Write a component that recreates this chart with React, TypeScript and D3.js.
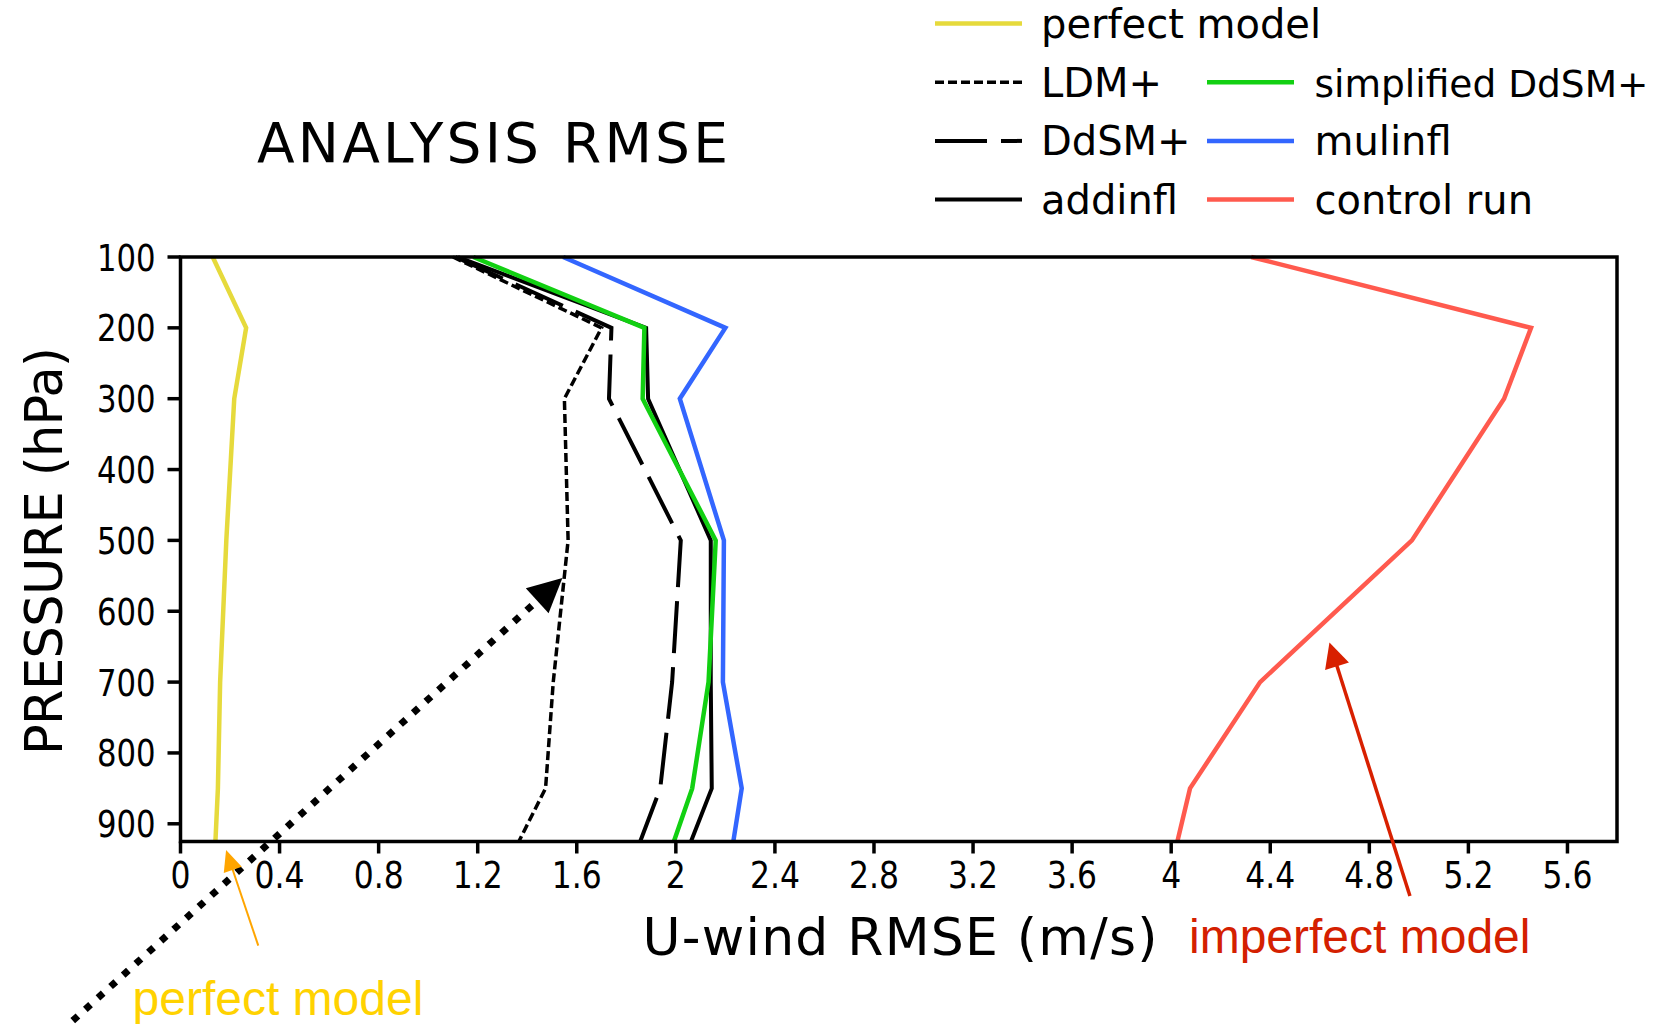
import * as d3 from "d3";

const W = 1665;
const H = 1024;
const plotLeft = 180.5;
const plotRight = 1617;
const plotTop = 257;
const plotBottom = 841.5;

// pressure levels (hPa) and U-wind analysis RMSE (m/s) per experiment
const levels = [100, 200, 300, 500, 700, 850, 925];
const perfectModel = [0.13, 0.265, 0.217, 0.185, 0.16, 0.151, 0.141];
const ldmPlus = [1.1, 1.7, 1.55, 1.565, 1.505, 1.474, 1.366];
const ddsmPlus = [1.11, 1.74, 1.73, 2.02, 1.985, 1.937, 1.856];
const addinfl = [1.12, 1.88, 1.888, 2.141, 2.141, 2.145, 2.061];
const simplifiedDdsm = [1.182, 1.873, 1.866, 2.161, 2.132, 2.066, 1.992];
const mulinfl = [1.545, 2.2, 2.016, 2.194, 2.19, 2.266, 2.232];
const controlRun = [4.323, 5.453, 5.344, 4.972, 4.359, 4.076, 4.025];

const xTicks = [0, 0.4, 0.8, 1.2, 1.6, 2, 2.4, 2.8, 3.2, 3.6, 4, 4.4, 4.8, 5.2, 5.6];
const yTicks = [100, 200, 300, 400, 500, 600, 700, 800, 900];

const series = [
  { name: "perfect model", values: perfectModel, color: "#e6da3c", width: 4.5, dash: "", col: 0, row: 0 },
  { name: "LDM+", values: ldmPlus, color: "#000", width: 3.5, dash: "9 4", col: 0, row: 1 },
  { name: "DdSM+", values: ddsmPlus, color: "#000", width: 4, dash: "52 14", col: 0, row: 2 },
  { name: "addinfl", values: addinfl, color: "#000", width: 4, dash: "", col: 0, row: 3 },
  { name: "simplified DdSM+", values: simplifiedDdsm, color: "#12d012", width: 4.5, dash: "", col: 1, row: 1, fit: 334 },
  { name: "mulinfl", values: mulinfl, color: "#3366ff", width: 4.5, dash: "", col: 1, row: 2 },
  { name: "control run", values: controlRun, color: "#ff5a4e", width: 4.5, dash: "", col: 1, row: 3 },
];

// annotation arrows, in data units (RMSE, hPa)
const blackArrow = { from: [-0.486, 1194], to: [1.542, 553] };
const redArrow = { from: [4.964, 1002], to: [4.639, 644] };
const orangeArrow = { from: [0.314, 1072], to: [0.184, 937] };

const grads = "'DejaVu Sans', sans-serif";
const arial = "'Liberation Sans', Arial, sans-serif";

function Arrow({ x1, y1, x2, y2, color, width, headLen, headW, dash = "" }) {
  const dx = x2 - x1;
  const dy = y2 - y1;
  const L = Math.hypot(dx, dy);
  const ux = dx / L;
  const uy = dy / L;
  const bx = x2 - ux * headLen;
  const by = y2 - uy * headLen;
  const px = -uy;
  const py = ux;
  const pts = [
    [x2, y2],
    [bx + (px * headW) / 2, by + (py * headW) / 2],
    [bx - (px * headW) / 2, by - (py * headW) / 2],
  ];
  return (
    <g>
      <line
        x1={x1}
        y1={y1}
        x2={bx + ux}
        y2={by + uy}
        stroke={color}
        strokeWidth={width}
        strokeDasharray={dash || undefined}
      />
      <polygon points={pts.map((p) => p.join(",")).join(" ")} fill={color} />
    </g>
  );
}

export default function App() {
  const x = d3.scaleLinear().domain([0, 5.8]).range([plotLeft, plotRight]);
  const y = d3.scaleLinear().domain([100, 925]).range([plotTop, plotBottom]);

  const line = d3
    .line<number>()
    .x((d) => x(d))
    .y((_, i) => y(levels[i]));

  const legendX = [935, 1207];
  const legendTextX = [1041, 1314.5];
  const legendY = (r: number) => 23.5 + r * 58.7;

  const arrow = (a, props) => (
    <Arrow
      x1={x(a.from[0])}
      y1={y(a.from[1])}
      x2={x(a.to[0])}
      y2={y(a.to[1])}
      {...props}
    />
  );

  return (
    <svg
      width={W}
      height={H}
      style={{ position: "absolute", left: 0, top: 0, background: "#fff" }}
    >
      {/* title */}
      <text
        x={257}
        y={161.5}
        fontFamily={grads}
        fontSize={55}
        textLength={471}
        lengthAdjust="spacing"
      >
        ANALYSIS RMSE
      </text>

      {/* legend */}
      {series.map((s) => (
        <g key={s.name}>
          <line
            x1={legendX[s.col]}
            x2={legendX[s.col] + 87}
            y1={legendY(s.row)}
            y2={legendY(s.row)}
            stroke={s.color}
            strokeWidth={s.width}
            strokeDasharray={s.dash || undefined}
          />
          <text
            x={legendTextX[s.col]}
            y={legendY(s.row) + 14.5}
            fontFamily={grads}
            fontSize={s.fit ? 37 : 40}
            textLength={s.fit}
            lengthAdjust={s.fit ? "spacingAndGlyphs" : undefined}
          >
            {s.name}
          </text>
        </g>
      ))}

      {/* series */}
      {series.map((s) => (
        <path
          key={s.name}
          d={line(s.values) || ""}
          fill="none"
          stroke={s.color}
          strokeWidth={s.width}
          strokeDasharray={s.dash || undefined}
          strokeLinejoin="miter"
        />
      ))}

      {/* frame */}
      <rect
        x={plotLeft}
        y={plotTop}
        width={plotRight - plotLeft}
        height={plotBottom - plotTop}
        fill="none"
        stroke="#000"
        strokeWidth={3.5}
      />

      {/* y axis */}
      {yTicks.map((t) => (
        <g key={t}>
          <line x1={plotLeft - 13} x2={plotLeft} y1={y(t)} y2={y(t)} stroke="#000" strokeWidth={3.5} />
          <g transform={`translate(${plotLeft - 25},${y(t) + 13.5}) scale(0.83,1)`}>
            <text textAnchor="end" fontFamily={grads} fontSize={37}>
              {t}
            </text>
          </g>
        </g>
      ))}

      {/* x axis */}
      {xTicks.map((t) => (
        <g key={t}>
          <line x1={x(t)} x2={x(t)} y1={plotBottom} y2={plotBottom + 12} stroke="#000" strokeWidth={3.5} />
          <g transform={`translate(${x(t)},${888}) scale(0.85,1)`}>
            <text textAnchor="middle" fontFamily={grads} fontSize={37}>
              {d3.format("~g")(t)}
            </text>
          </g>
        </g>
      ))}

      {/* axis titles */}
      <text
        x={642.5}
        y={955}
        fontFamily={grads}
        fontSize={52}
        textLength={515}
        lengthAdjust="spacing"
      >
        U-wind RMSE (m/s)
      </text>
      <text
        transform="translate(61.5,755) rotate(-90)"
        fontFamily={grads}
        fontSize={51}
        textLength={408}
        lengthAdjust="spacing"
      >
        PRESSURE (hPa)
      </text>

      {/* annotations */}
      {arrow(blackArrow, { color: "#000", width: 7, headLen: 34, headW: 34, dash: "7 10" })}
      {arrow(redArrow, { color: "#d82000", width: 3.5, headLen: 25, headW: 25 })}
      {arrow(orangeArrow, { color: "#ffa500", width: 2, headLen: 21, headW: 19 })}

      <text x={1189} y={953} fontFamily={arial} fontSize={48} fill="#d42000">
        imperfect model
      </text>
      <text x={132.5} y={1015} fontFamily={arial} fontSize={48} fill="#ffd200">
        perfect model
      </text>
    </svg>
  );
}
